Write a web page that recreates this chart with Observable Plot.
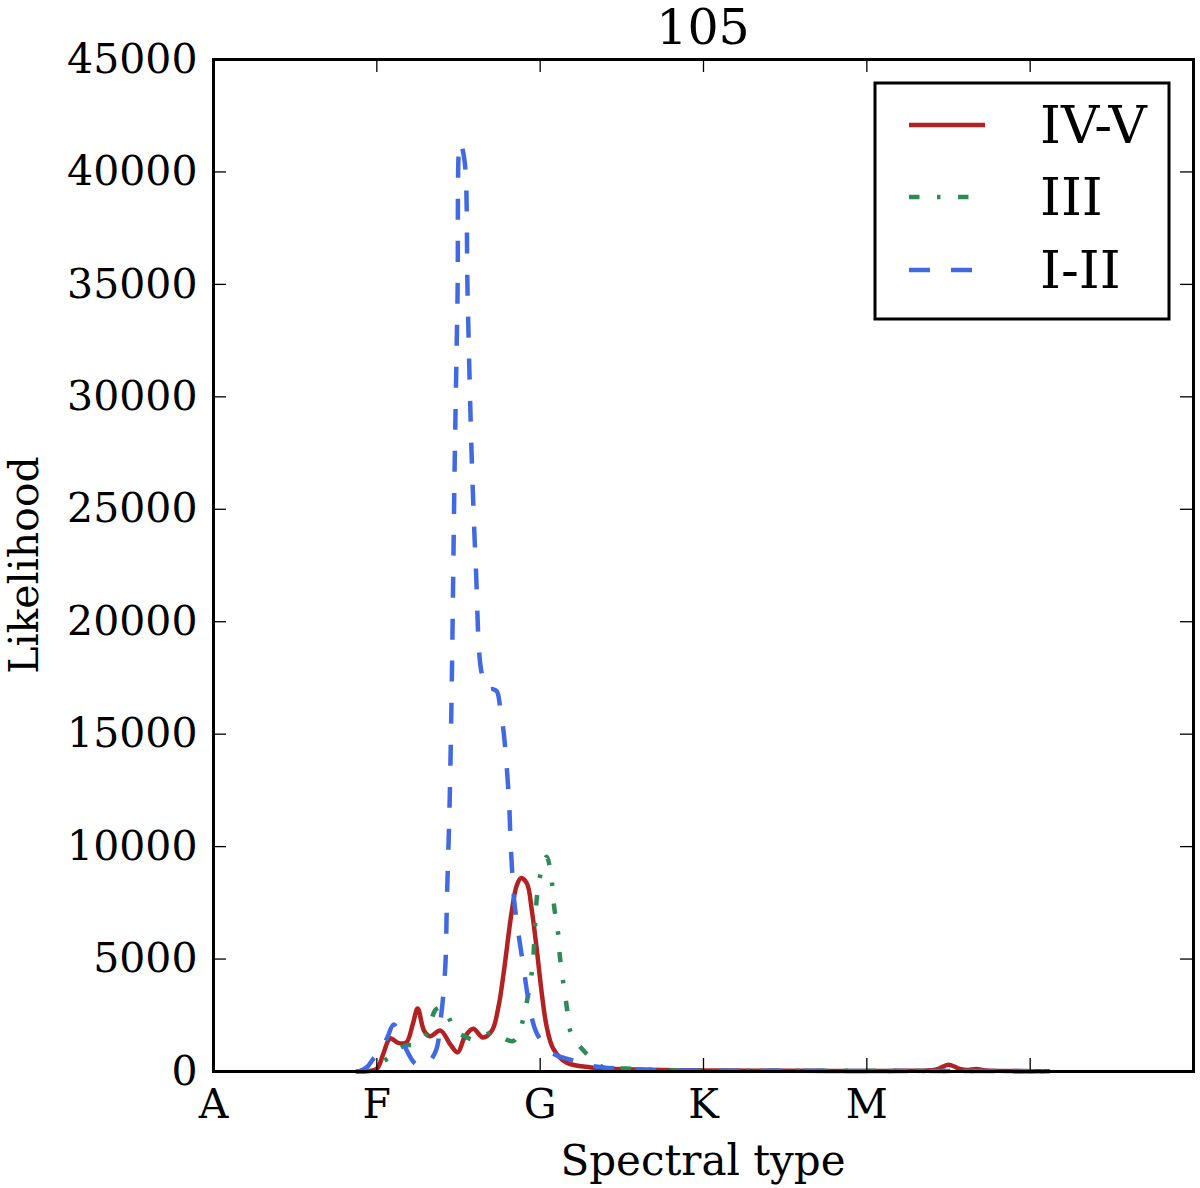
<!DOCTYPE html>
<html>
<head>
<meta charset="utf-8">
<script src="https://cdn.jsdelivr.net/npm/d3@7"></script>
<script src="https://cdn.jsdelivr.net/npm/@observablehq/plot@0.6"></script>
<style>
  body { margin: 0; background: white; }
</style>
</head>
<body>
<div id="chart"></div>
<script>
// spectral type axis: one class = 10 units
const title = "105";
const xTicks = [0, 10, 20, 30, 40, 50];
const xTickLabels = ["A", "F", "G", "K", "M", ""];
const yTicks = [0, 5000, 10000, 15000, 20000, 25000, 30000, 35000, 40000, 45000];
const seriesNames = ["IV-V", "III", "I-II"];

// IV-V (dwarfs / subgiants)
const ivvX = [8.7, 9.5, 10.0, 10.4, 10.7, 10.85, 11.3, 11.8, 12.2, 12.5, 12.9, 13.25, 13.9, 14.5, 14.95, 15.4, 15.9, 16.5, 17.05, 17.45, 17.76, 18.27, 18.57, 18.84, 19.19, 19.49, 19.8, 20.1, 20.4, 20.8, 21.6, 23.1, 26.1, 30, 36, 42, 44.2, 45.0, 45.7, 46.2, 46.7, 47.3, 49, 51.2];
const ivvY = [0, 20, 120, 800, 1380, 1480, 1270, 1290, 2100, 2800, 1800, 1570, 1820, 1200, 850, 1560, 1900, 1510, 1820, 2890, 4360, 7160, 8280, 8600, 8360, 7160, 5380, 3470, 1990, 1020, 400, 180, 90, 50, 30, 30, 80, 300, 110, 70, 110, 50, 20, 10];

// III (giants)
const iiiX = [8.9, 9.5, 10.0, 10.7, 11.2, 11.8, 12.4, 13.07, 13.6, 14.0, 14.4, 14.8, 15.4, 15.9, 16.5, 17.05, 17.7, 18.33, 18.7, 18.98, 19.5, 19.8, 20.0, 20.4, 20.7, 20.86, 21.1, 21.2, 21.6, 21.9, 22.65, 23.5, 23.9, 25.3, 27, 30, 36, 42, 46, 51.2];
const iiiY = [0, 150, 300, 600, 950, 1160, 1200, 1690, 2750, 2850, 2400, 1820, 1550, 1420, 1550, 1750, 1500, 1350, 1700, 2410, 4490, 7750, 8700, 9550, 8500, 7310, 6140, 5160, 3020, 1690, 930, 350, 180, 130, 70, 40, 30, 30, 20, 15];

// I-II (supergiants / bright giants)
const iiX = [8.9, 9.4, 9.8, 10.3, 10.64, 11.03, 11.4, 11.74, 12.35, 12.9, 13.58, 13.95, 14.19, 14.29, 14.46, 14.6, 14.68, 14.76, 14.94, 15.1, 15.37, 15.56, 15.82, 16.07, 16.39, 16.75, 17.1, 17.35, 17.55, 17.8, 18.1, 18.17, 18.27, 18.41, 18.67, 18.98, 19.29, 19.8, 20.8, 22.04, 23.2, 23.87, 25, 27, 30, 36, 42, 46, 51.2];
const iiY = [0, 200, 580, 1000, 1510, 2090, 1700, 1080, 350, 250, 860, 2580, 4640, 7600, 12050, 17830, 22280, 26730, 34400, 41300, 40500, 34420, 27040, 22280, 17830, 17000, 17000, 16900, 16200, 14850, 11920, 10580, 9090, 7600, 6140, 4640, 3160, 1690, 800, 490, 250, 180, 120, 60, 40, 30, 25, 20, 15];

const colors = ["#b22222", "#2e8b57", "#4169e1"];
const dashes = [null, "10.5,17.5,3.5,17.5", "21,21"];

const rows = (xs, ys) => xs.map((x, i) => ({x, y: ys[i]}));
const series = [rows(ivvX, ivvY), rows(iiiX, iiiY), rows(iiX, iiY)];

const W = 1200, H = 1188;
const mTop = 59, mRight = 7, mBottom = 117, mLeft = 213;
const frameW = W - mLeft - mRight, frameH = H - mTop - mBottom;
const tickLen = 13;

function decorations(index, scales, values, dim) {
  const g = d3.create("svg:g").attr("font-family", "DejaVu Serif").attr("fill", "black");
  const cx = dim.marginLeft + (dim.width - dim.marginLeft - dim.marginRight) / 2;
  const cy = dim.marginTop + (dim.height - dim.marginTop - dim.marginBottom) / 2;
  g.append("text").attr("x", cx).attr("y", 44).attr("text-anchor", "middle")
    .attr("font-size", 49).text(title);
  g.append("text").attr("x", cx).attr("y", dim.height - 13).attr("text-anchor", "middle")
    .attr("font-size", 42).text("Spectral type");
  g.append("text").attr("transform", `translate(38,${cy}) rotate(-90)`).attr("text-anchor", "middle")
    .attr("font-size", 41).text("Likelihood");

  // legend box, upper right
  const bx = dim.width - dim.marginRight - 318, by = dim.marginTop + 24;
  g.append("rect").attr("x", bx).attr("y", by).attr("width", 294).attr("height", 236)
    .attr("fill", "white").attr("stroke", "black").attr("stroke-width", 3);
  const rowY = [42, 114, 187];
  seriesNames.forEach((name, i) => {
    const y = by + rowY[i];
    g.append("line").attr("x1", bx + 34).attr("x2", bx + 110).attr("y1", y).attr("y2", y)
      .attr("stroke", colors[i]).attr("stroke-width", 4.5)
      .attr("stroke-dasharray", dashes[i]);
    g.append("text").attr("x", bx + 165).attr("y", y + 18).attr("text-anchor", "start")
      .attr("font-size", 53).text(name);
  });
  return g.node();
}

const chart = Plot.plot({
  width: W,
  height: H,
  marginTop: mTop,
  marginRight: mRight,
  marginBottom: mBottom,
  marginLeft: mLeft,
  x: {domain: [0, 60]},
  y: {domain: [0, 45000]},
  style: {
    background: "white",
    color: "black",
    fontFamily: "DejaVu Serif",
    fontSize: "41px",
    overflow: "visible",
  },
  marks: [
    Plot.axisX({ticks: xTicks, tickSize: 0, tickPadding: 17,
      tickFormat: (d) => xTickLabels[xTicks.indexOf(d)], label: null}),
    Plot.axisY({ticks: yTicks, tickSize: 0, tickPadding: 16,
      tickFormat: d3.format("d"), label: null}),
    ...series.map((data, i) =>
      Plot.line(data, {
        x: "x",
        y: "y",
        stroke: colors[i],
        strokeWidth: 4.5,
        strokeDasharray: dashes[i] ?? undefined,
        strokeLinecap: "butt",
        curve: "catmull-rom",
      })
    ),
    // inward ticks on all four sides
    Plot.tickX(xTicks, {x: (d) => d, insetTop: frameH - tickLen, stroke: "black", strokeWidth: 1.3}),
    Plot.tickX(xTicks, {x: (d) => d, insetBottom: frameH - tickLen, stroke: "black", strokeWidth: 1.3}),
    Plot.tickY(yTicks, {y: (d) => d, insetRight: frameW - tickLen, stroke: "black", strokeWidth: 1.3}),
    Plot.tickY(yTicks, {y: (d) => d, insetLeft: frameW - tickLen, stroke: "black", strokeWidth: 1.3}),
    Plot.frame({stroke: "black", strokeWidth: 3}),
    decorations,
  ],
});

d3.select("#chart").append(() => chart);
</script>
</body>
</html>
